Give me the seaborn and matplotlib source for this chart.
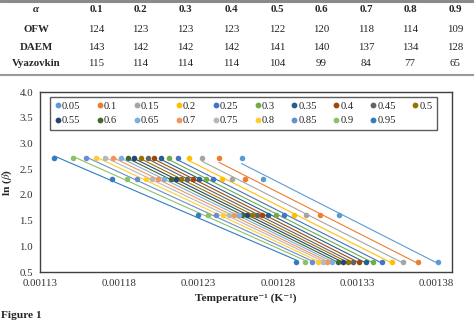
import numpy as np
import pandas as pd
import matplotlib
matplotlib.use("Agg")
import matplotlib.pyplot as plt
from matplotlib.lines import Line2D
import seaborn as sns

# ---- table data ----
table_cols = ["0.1", "0.2", "0.3", "0.4", "0.5", "0.6", "0.7", "0.8", "0.9"]
ofw = [124, 123, 123, 123, 122, 120, 118, 114, 109]
daem = [143, 142, 142, 142, 141, 140, 137, 134, 128]
vyazovkin = [115, 114, 114, 114, 104, 99, 84, 77, 65]
row_names = ["OFW", "DAEM", "Vyazovkin"]

# ---- chart data ----
alphas = ["0.05", "0.1", "0.15", "0.2", "0.25", "0.3", "0.35", "0.4", "0.45", "0.5",
          "0.55", "0.6", "0.65", "0.7", "0.75", "0.8", "0.85", "0.9", "0.95"]
ln_beta = [2.708, 2.303, 1.609, 0.693]
# 1/T at ln(beta) = 2.708, 2.303, 1.609, 0.693 for each alpha
inv_T_15 = [0.0012572, 0.0012430, 0.0012323, 0.0012241, 0.0012173, 0.0012116, 0.0012066,
            0.0012022, 0.0011982, 0.0011938, 0.0011895, 0.0011854, 0.0011811, 0.0011763,
            0.0011710, 0.0011654, 0.0011590, 0.0011508, 0.0011390]
inv_T_10 = [0.0012708, 0.0012594, 0.0012514, 0.0012449, 0.0012394, 0.0012348, 0.0012306,
            0.0012268, 0.0012230, 0.0012192, 0.0012159, 0.0012124, 0.0012085, 0.0012047,
            0.0012009, 0.0011966, 0.0011910, 0.0011851, 0.0011756]
inv_T_5 = [0.0013189, 0.0013065, 0.0012977, 0.0012904, 0.0012840, 0.0012787, 0.0012739,
           0.0012702, 0.0012669, 0.0012636, 0.0012606, 0.0012575, 0.0012553, 0.0012525,
           0.0012493, 0.0012453, 0.0012411, 0.0012361, 0.0012297]
inv_T_2 = [0.0013811, 0.0013684, 0.0013592, 0.0013520, 0.0013457, 0.0013404, 0.0013358,
           0.0013315, 0.0013276, 0.0013244, 0.0013211, 0.0013178, 0.0013145, 0.0013114,
           0.0013085, 0.0013052, 0.0013015, 0.0012973, 0.0012916]

colors = ["#5B9BD5", "#ED7D31", "#A5A5A5", "#FFC000", "#4472C4", "#70AD47", "#255E91",
          "#9E480E", "#636363", "#997300", "#264478", "#43682B", "#7CAFDD", "#F1975A",
          "#B7B7B7", "#FFCD33", "#698ED0", "#8CC168", "#327DC2"]

x_ticks = [0.00113, 0.00118, 0.00123, 0.00128, 0.00133, 0.00138]
y_ticks = [0.5, 1.0, 1.5, 2.0, 2.5, 3.0, 3.5, 4.0]

sns.set_theme(style="white")
plt.rcParams["font.family"] = ["Liberation Serif", "DejaVu Serif"]
plt.rcParams["mathtext.fontset"] = "stix"

W, H = 474, 326
fig = plt.figure(figsize=(W / 100, H / 100), dpi=100)

def fx(px):
    return px / W

def fy(py):
    return 1 - py / H

# ---- table ----
col_x = [96, 140, 185, 231, 277, 321, 366, 410, 455]
label_x = 36
row_y = [10, 29, 47, 64]
tfs = 7.8
fig.text(fx(label_x), fy(row_y[0]), "α", ha="center", va="center", fontsize=tfs,
         fontweight="bold", fontstyle="italic")
for cx, c in zip(col_x, table_cols):
    fig.text(fx(cx), fy(row_y[0]), c, ha="center", va="center", fontsize=tfs, fontweight="bold")
for ry, name, vals in zip(row_y[1:], row_names, [ofw, daem, vyazovkin]):
    fig.text(fx(label_x), fy(ry), name, ha="center", va="center", fontsize=tfs, fontweight="bold")
    for cx, v in zip(col_x, vals):
        fig.text(fx(cx), fy(ry), str(v), ha="center", va="center", fontsize=tfs, color="#222222")
fig.add_artist(Line2D([0, 1], [fy(1), fy(1)], transform=fig.transFigure, color="#8a8a8a", lw=2.2))
fig.add_artist(Line2D([0, 1], [fy(74.5), fy(74.5)], transform=fig.transFigure, color="#9a9a9a", lw=1.5))

# ---- chart ----
ax = fig.add_axes([fx(40), fy(272), fx(452) - fx(40), fy(92) - fy(272)])

handles = []
for i, a in enumerate(alphas):
    df = pd.DataFrame({"x": [inv_T_15[i], inv_T_10[i], inv_T_5[i], inv_T_2[i]], "y": ln_beta})
    sns.regplot(data=df, x="x", y="y", ax=ax, ci=None, truncate=True, color=colors[i],
                scatter_kws=dict(s=16, linewidths=0, alpha=1, zorder=3),
                line_kws=dict(lw=0.8, zorder=2), label=a)
    handles.append(Line2D([], [], ls="none", marker="o", markersize=4.2,
                          markerfacecolor=colors[i], markeredgewidth=0, label=a))

ax.set_xlim(0.00113, 0.00139)
ax.set_ylim(0.5, 4.0)
ax.set_xticks(x_ticks)
ax.set_xticklabels([f"{t:.5f}" for t in x_ticks])
ax.set_yticks(y_ticks)
ax.set_yticklabels([f"{t:.1f}" for t in y_ticks])
ax.tick_params(axis="both", length=0, labelsize=7.8, colors="#333333", pad=5)
for s in ax.spines.values():
    s.set_visible(True)
    s.set_color("#404040")
    s.set_linewidth(1.0)

ax.set_xlabel("Temperature⁻¹ (K⁻¹)", fontsize=8.2, fontweight="bold", labelpad=4)
ax.set_ylabel(r"ln ($\beta$)", fontsize=8.2, fontweight="bold")
ax.yaxis.set_label_coords(-0.062, 0.5)

order = []
for i in range(9):
    order += [i, i + 10]
order.append(9)
leg = ax.legend([handles[k] for k in order], [alphas[k] for k in order], ncol=10,
                loc="upper left", bbox_to_anchor=(0.024, 0.767, 0.94, 0.205), mode="expand",
                fontsize=7.6, frameon=True, fancybox=False, handlelength=0.6,
                handletextpad=0.1, columnspacing=0.5, borderpad=0.45, labelspacing=0.45,
                borderaxespad=0)
leg.get_frame().set_edgecolor("#333333")
leg.get_frame().set_linewidth(1.0)

fig.text(fx(1), fy(316), "Figure 1", ha="left", va="center", fontsize=8.2, fontweight="bold")

fig.savefig("out.png", dpi=100)
